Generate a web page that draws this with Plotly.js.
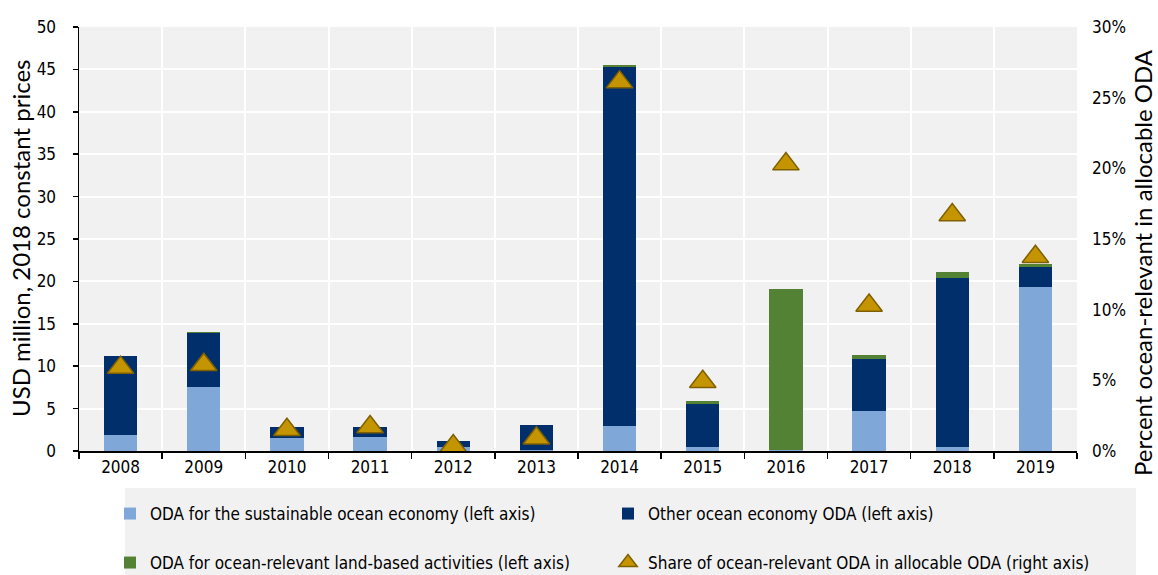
<!DOCTYPE html>
<html>
<head>
<meta charset="utf-8">
<script src="https://cdn.plot.ly/plotly-3.0.1.min.js"></script>
<style>html,body{margin:0;padding:0;background:#fff;}#chart{width:1158px;height:575px;}</style>
</head>
<body>
<div id="chart"></div>
<script>
const years = ["2008","2009","2010","2011","2012","2013","2014","2015","2016","2017","2018","2019"];
const sustainableOcean = [1.9, 7.6, 1.5, 1.7, 0.5, 0.15, 3.0, 0.5, 0.15, 4.7, 0.5, 19.3];
const otherOcean = [9.3, 6.3, 1.3, 1.1, 0.7, 2.95, 42.3, 5.1, 0, 6.15, 19.9, 2.4];
const landBased = [0, 0.15, 0, 0, 0, 0, 0.2, 0.35, 18.95, 0.45, 0.75, 0.4];
const sharePct = [5.9, 6.1, 1.5, 1.7, 0.35, 0.9, 26.1, 4.9, 20.3, 10.3, 16.7, 13.75];
const leftTicks = [0,5,10,15,20,25,30,35,40,45,50];
const rightTicks = [0,5,10,15,20,25,30];
const leftTitle = 'USD million, 2018 constant prices';
const rightTitle = 'Percent ocean-relevant in allocable ODA';

const narrow = "Liberation Sans Narrow, Arial Narrow, DejaVu Sans Condensed, sans-serif";
const titleFont = "Lato, Carlito, Calibri, sans-serif";

const traces = [
  {type:'bar', name:'ODA for the sustainable ocean economy (left axis)', x:years, y:sustainableOcean,
   marker:{color:'#7FA8D8', line:{width:0}}, width:0.4, legend:'legend'},
  {type:'bar', name:'Other ocean economy ODA (left axis)', x:years, y:otherOcean,
   marker:{color:'#002F6C', line:{width:0}}, width:0.4, legend:'legend2'},
  {type:'bar', name:'ODA for ocean-relevant land-based activities (left axis)', x:years, y:landBased,
   marker:{color:'#548235', line:{width:0}}, width:0.4, legend:'legend3'},
  {type:'scatter', mode:'markers', name:'Share of ocean-relevant ODA in allocable ODA (right axis)', x:years, y:sharePct,
   yaxis:'y2', marker:{symbol:'triangle-up', size:23, color:'#C49500', line:{color:'#7F6000', width:1.5}}, legend:'legend4'}
];

const px = (p)=> (p-79)/998;
const py = (p)=> (451-p)/424;
const legBase = {orientation:'h', bgcolor:'rgba(0,0,0,0)', font:{family:narrow, size:17, color:'#000'}, yanchor:'middle', xanchor:'left', itemclick:false};

const layout = {
  width:1158, height:575,
  margin:{l:79, r:81, t:27, b:124, autoexpand:false},
  paper_bgcolor:'#ffffff', plot_bgcolor:'#F1F1F1',
  barmode:'stack', bargap:0.6,
  font:{family:narrow, size:17, color:'#000'},
  xaxis:{type:'category', range:[-0.5,11.5], tickson:'boundaries', showgrid:true, gridcolor:'#ffffff', gridwidth:2, automargin:false,
    showline:true, linecolor:'#000', linewidth:1.5, ticks:'outside', ticklen:6, tickcolor:'#000', tickwidth:1.5,
    tickfont:{family:narrow, size:17}, fixedrange:true, zeroline:false},
  yaxis:{range:[0,50], tickvals:leftTicks, ticktext:leftTicks.map(String), showgrid:true, gridcolor:'#ffffff', gridwidth:2,
    showline:true, linecolor:'#000', linewidth:1.5, ticks:'outside', ticklen:5, tickcolor:'#000', tickwidth:1.5,
    ticklabelstandoff:13, zeroline:false, automargin:false,
    tickfont:{family:narrow, size:17}},
  yaxis2:{range:[0,30], overlaying:'y', side:'right', tickvals:rightTicks, ticktext:rightTicks.map(v=>v+'%'),
    showgrid:false, showline:false, ticks:'', zeroline:false, ticklabelstandoff:14, automargin:false,
    tickfont:{family:narrow, size:17}},
  showlegend:true,
  legend: Object.assign({}, legBase, {x:px(110), y:py(514)}),
  legend2: Object.assign({}, legBase, {x:px(608), y:py(514)}),
  legend3: Object.assign({}, legBase, {x:px(110), y:py(563)}),
  legend4: Object.assign({}, legBase, {x:px(608), y:py(563)}),
  annotations:[
    {text:leftTitle, xref:'paper', yref:'paper', x:px(20), y:py(239), xanchor:'center', yanchor:'middle', textangle:-90,
     showarrow:false, borderpad:0, font:{family:titleFont, size:24, color:'#000'}},
    {text:rightTitle, xref:'paper', yref:'paper', x:px(1142), y:py(263), xanchor:'center', yanchor:'middle', textangle:-90,
     showarrow:false, borderpad:0, font:{family:titleFont, size:24, color:'#000'}}
  ],
  shapes:[{type:'rect', xref:'paper', yref:'paper', x0:px(125), x1:px(1136), y0:py(575), y1:py(488),
    fillcolor:'#F1F1F1', line:{width:0}, layer:'below'}]
};

Plotly.newPlot('chart', traces, layout, {displayModeBar:false, staticPlot:true});
</script>
</body>
</html>
